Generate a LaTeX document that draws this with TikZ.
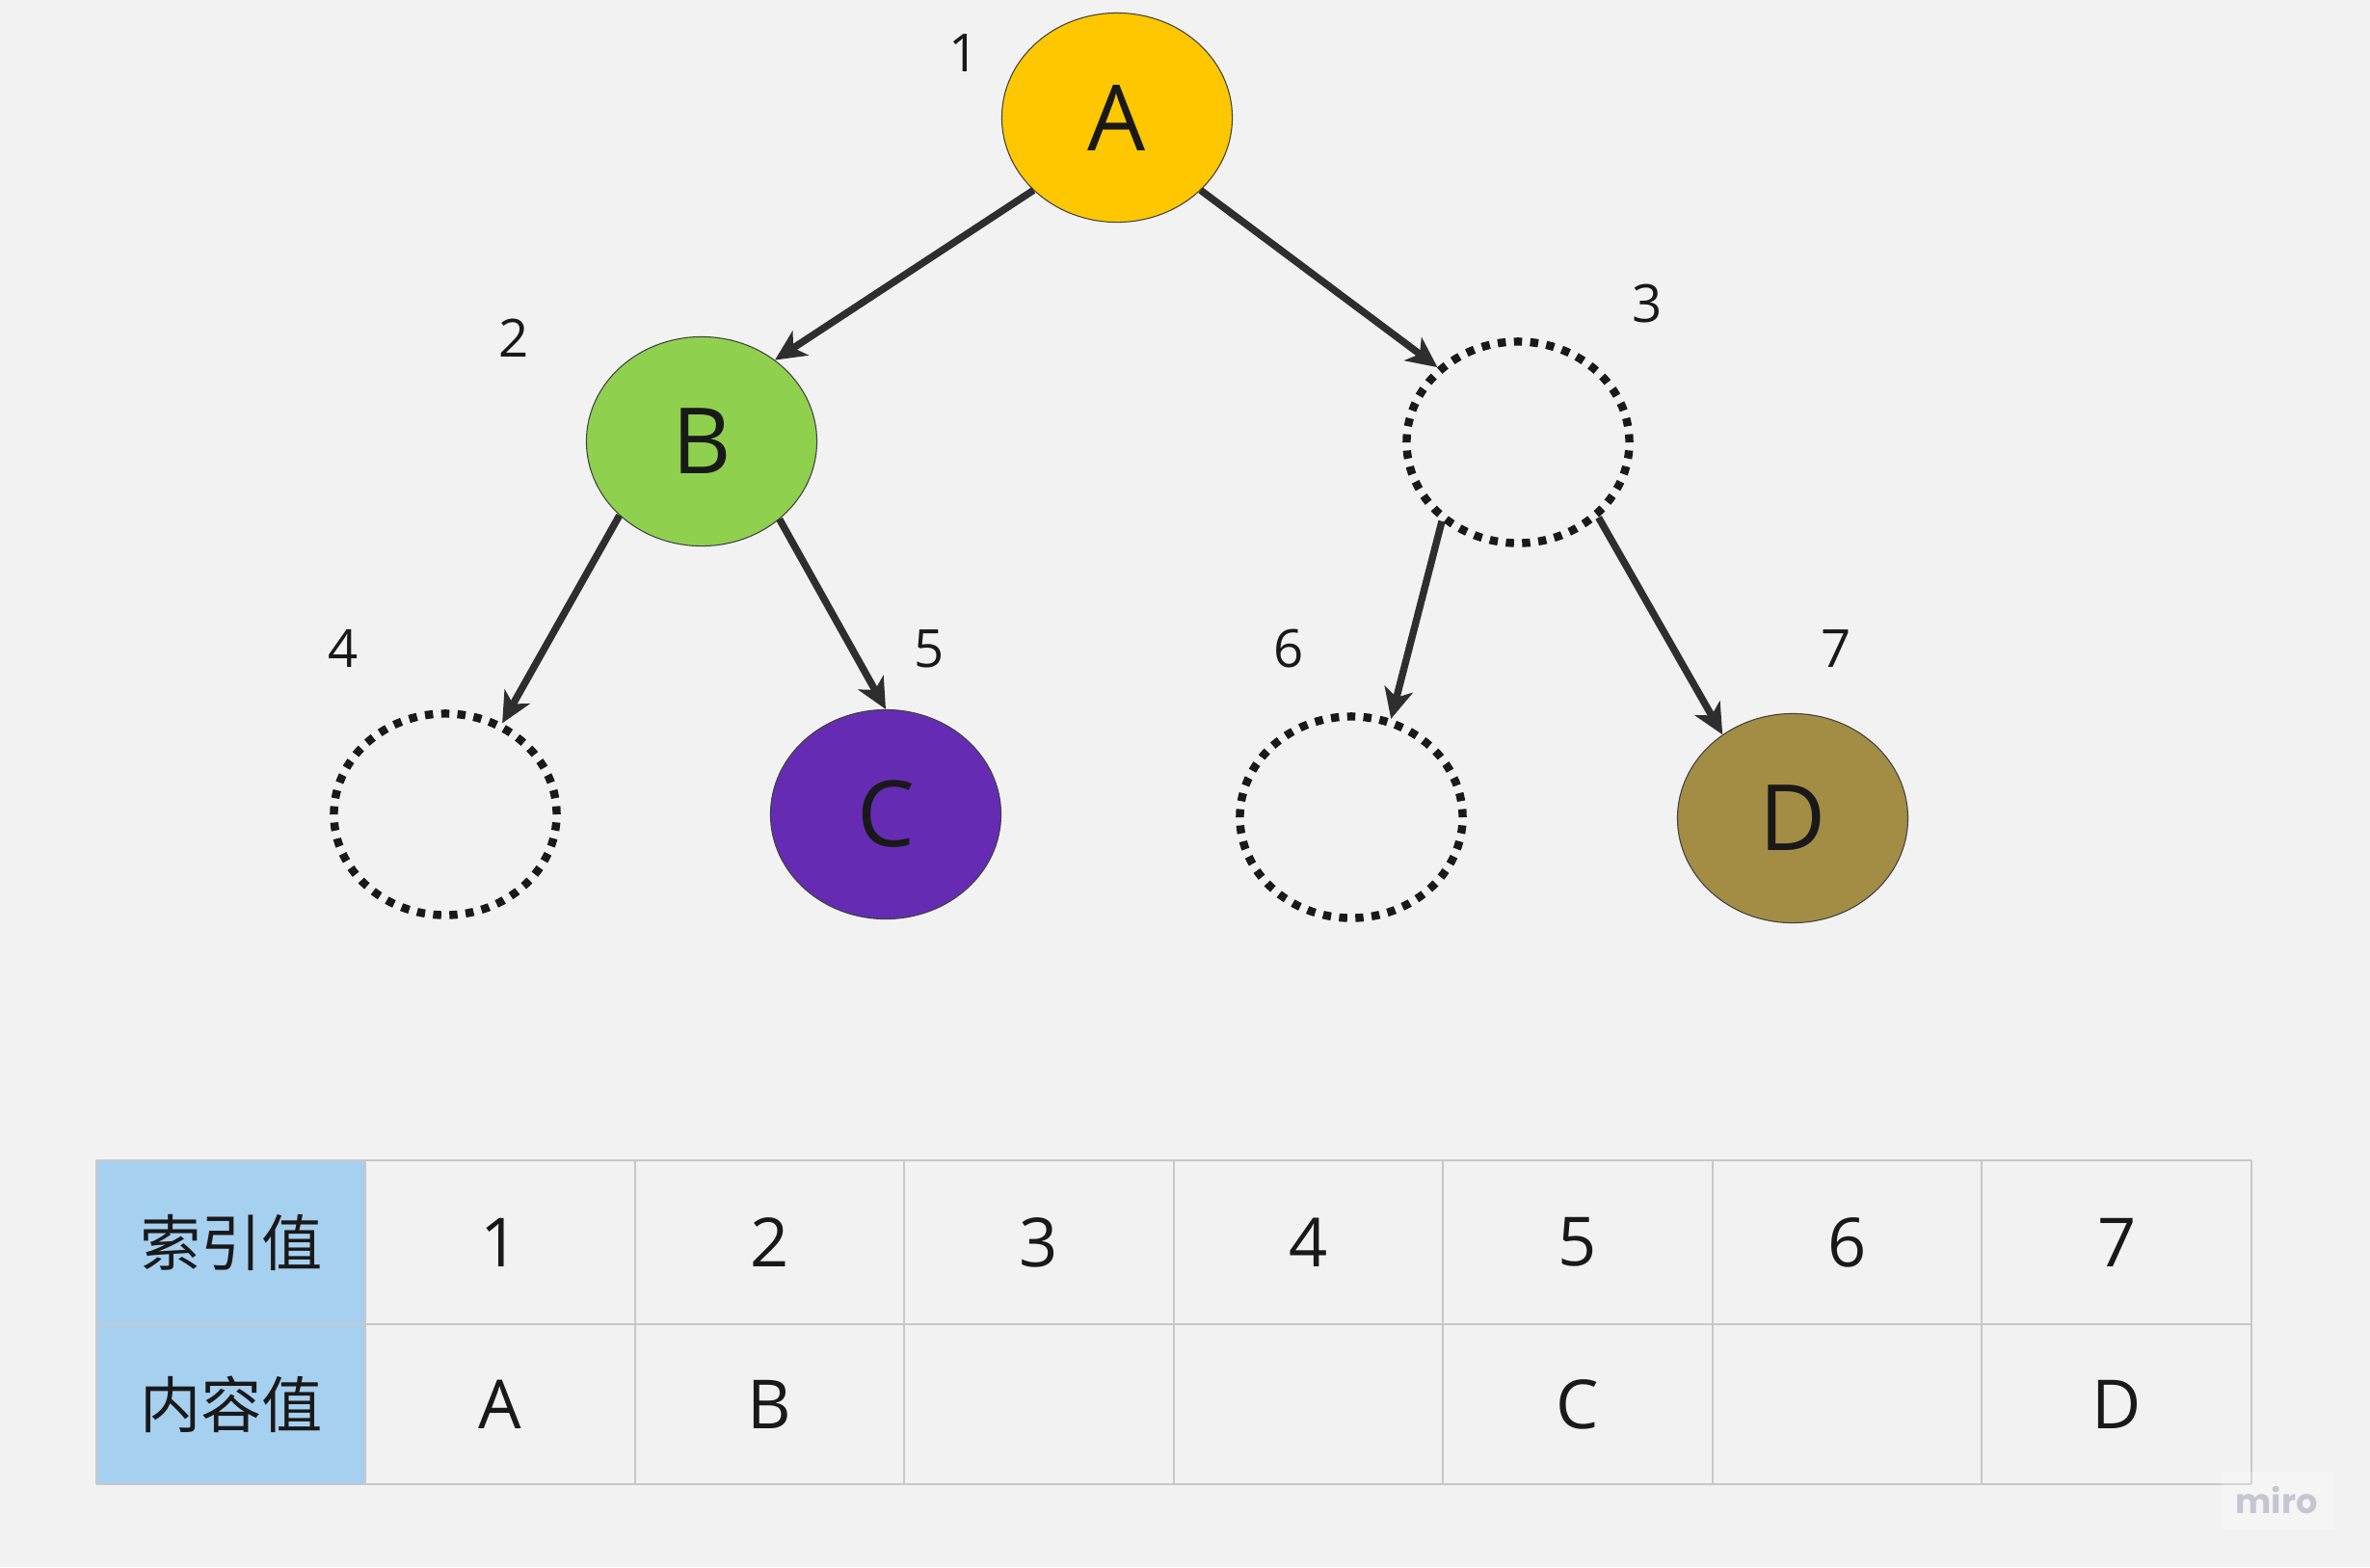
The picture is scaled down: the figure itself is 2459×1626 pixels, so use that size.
\documentclass[tikz,border=0pt]{standalone}
\usepackage{fontspec}
\setmainfont{Open Sans}
\newfontfamily\cjk{Noto Sans CJK SC}
\newfontfamily\mirofont{Poppins}
\usepackage{tikz}
\usetikzlibrary{arrows.meta, shapes.geometric}

\definecolor{bgcol}{HTML}{F2F2F2}
\definecolor{yelA}{HTML}{FFC700}
\definecolor{grnB}{HTML}{8FD14F}
\definecolor{purC}{HTML}{652CB3}
\definecolor{olvD}{HTML}{A38D45}
\definecolor{hdrcol}{HTML}{A6D0F0}
\definecolor{gridcol}{HTML}{C8C8C8}
\definecolor{arrcol}{HTML}{2E2E2E}
\definecolor{mirocol}{HTML}{C6C6D2}

\begin{document}
\begin{tikzpicture}[x=0.01cm, y=-0.01cm,
    vert/.style={ellipse, draw=black!75, line width=0.3pt, minimum width=2.39cm, minimum height=2.17cm, inner sep=0pt, text=black!90, font=\fontsize{27pt}{30pt}\selectfont},
    hole/.style={ellipse, draw=black!90, line width=2.4pt, dash pattern=on 2.4pt off 2.4pt, minimum width=2.31cm, minimum height=2.09cm, inner sep=0pt},
    idx/.style={text=black!90, font=\fontsize{15.5pt}{18pt}\selectfont},
    link/.style={draw=arrcol, line width=2.1pt, -{Stealth[length=9pt, width=8.5pt, inset=2.5pt]}},
    cell/.style={text=black!90, font=\fontsize{20pt}{24pt}\selectfont}]
    \fill[bgcol] (0,0) rectangle (2459,1626);
    \useasboundingbox (0,0) rectangle (2459,1626);

    % the tree
    \node[vert, fill=yelA] (nA) at (1159,122) {A};
    \node[vert, fill=grnB] (nB) at (728,458) {B};
    \node[hole] (n3) at (1575,459) {};
    \node[hole] (n4) at (462,845) {};
    \node[vert, fill=purC] (nC) at (919,845) {C};
    \node[hole] (n6) at (1402,848) {};
    \node[vert, fill=olvD] (nD) at (1860,849) {D};

    % index numbers
    \node[idx] (i1) at (1000,55) {1};
    \node[idx] (i2) at (533,351) {2};
    \node[idx] (i3) at (1709,315) {3};
    \node[idx] (i4) at (356,673) {4};
    \node[idx] (i5) at (964,673) {5};
    \node[idx] (i6) at (1337,673) {6};
    \node[idx] (i7) at (1905,673) {7};

    \draw[link] (nA.221) -- (nB.48);
    \draw[link] (nA.319) -- (n3.137);
    \draw[link] (nB.222) -- (n4.58);
    \draw[link] (nB.315) -- (nC.90);
    \draw[link] (n3.226) -- (n6.68);
    \draw[link] (n3.317) -- (nD.130);

    % the table
    \fill[hdrcol] (100,1204) rectangle (379,1540);
    \foreach \i in {0,...,7}
        \draw[gridcol, line width=0.6pt] ({379+279.57*\i},1204) -- ({379+279.57*\i},1540);
    \foreach \y in {1204,1374,1540}
        \draw[gridcol, line width=0.6pt] (100,\y) -- (2336,\y);
    \draw[gridcol, line width=0.6pt] (100,1204) -- (100,1540);

    \node[cell, font=\fontsize{18pt}{22pt}\selectfont] (k0) at (240,1289) {\cjk 索引值};
    \node[cell, font=\fontsize{18pt}{22pt}\selectfont] (c0) at (240,1457) {\cjk 内容值};
    \foreach \i in {1,...,7}
        \node[cell] (k\i) at ({379+279.57*(\i-0.5)},1289) {\i};
    \foreach \i/\v in {1/A,2/B,5/C,7/D}
        \node[cell] (c\i) at ({379+279.57*(\i-0.5)},1457) {\v};

    % watermark
    \fill[white, opacity=0.25] (2305,1527) rectangle (2422,1587);
    \node[text=mirocol, font=\mirofont\bfseries\fontsize{10pt}{12pt}\selectfont] (miro) at (2362,1557) {miro};
\end{tikzpicture}
\end{document}
